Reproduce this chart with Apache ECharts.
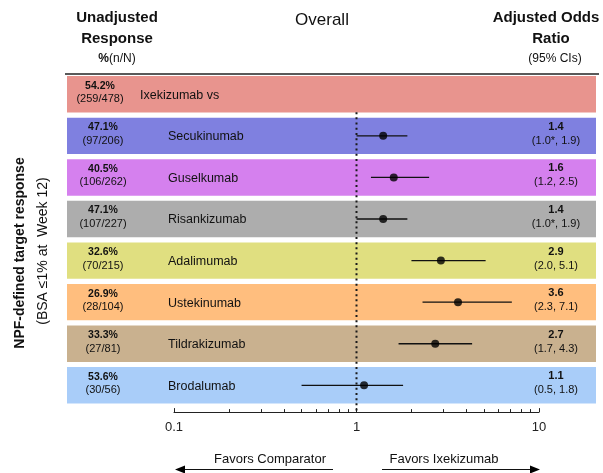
<!DOCTYPE html>
<html>
<head>
<meta charset="utf-8">
<script src="https://cdn.jsdelivr.net/npm/echarts@6/dist/echarts.min.js"></script>
<style>
  html, body { margin: 0; padding: 0; background: #fff; }
  #chart { width: 603px; height: 473px; }
</style>
</head>
<body>
<div id="chart"></div>
<script>
// Forest plot: NPF-defined target response (BSA <=1% at Week 12), ixekizumab vs comparators
const comparators = ['Ixekizumab vs', 'Secukinumab', 'Guselkumab', 'Risankizumab', 'Adalimumab', 'Ustekinumab', 'Tildrakizumab', 'Brodalumab'];
const responsePct = [54.2, 47.1, 40.5, 47.1, 32.6, 26.9, 33.3, 53.6];
const responders = [259, 97, 106, 107, 70, 28, 27, 30];
const patients = [478, 206, 262, 227, 215, 104, 81, 56];
const oddsRatio = [null, 1.4, 1.6, 1.4, 2.9, 3.6, 2.7, 1.1];
const ciLower = [null, 1.0, 1.2, 1.0, 2.0, 2.3, 1.7, 0.5];
const ciUpper = [null, 1.9, 2.5, 1.9, 5.1, 7.1, 4.3, 1.8];
const ciLowerRounded = [false, true, false, true, false, false, false, false];
const bandColors = ['#E8948E', '#7F80E0', '#D580EE', '#ADADAD', '#E0DF80', '#FFBE7E', '#C9B18F', '#A9CDF9'];
const axisTickLabels = [0.1, 1, 10];
const minorTickValues = [0.2, 0.3, 0.4, 0.5, 0.6, 0.7, 0.8, 0.9, 2, 3, 4, 5, 6, 7, 8, 9];

const FONT = '"Liberation Sans", Arial, Helvetica, sans-serif';
const INK = '#111';

const chart = echarts.init(document.getElementById('chart'), null, { renderer: 'canvas' });

const gridTop = 73.5;
const gridHeight = 332.6;

// rows with an odds ratio estimate
const estimateRows = comparators.map((c, i) => i).filter(i => oddsRatio[i] != null);

function txt(x, y, text, size, weight, align) {
  return {
    type: 'text',
    style: {
      x, y, text,
      font: `${weight || 'normal'} ${size}px ${FONT}`,
      fill: INK,
      align: align || 'center', textAlign: align || 'center',
      verticalAlign: 'middle', textVerticalAlign: 'middle'
    }
  };
}

const option = {
  animation: false,
  backgroundColor: '#fff',
  grid: [
    { left: 67, right: 7, top: gridTop, height: gridHeight },
    { left: 174, right: 64, top: gridTop, height: gridHeight }
  ],
  xAxis: [
    { type: 'value', gridIndex: 0, min: 0, max: 1, show: false },
    {
      type: 'log', logBase: 10, gridIndex: 1, min: 0.1, max: 10,
      position: 'bottom', offset: 6,
      axisLine: { show: true, onZero: false, lineStyle: { color: '#222', width: 1 } },
      axisTick: { show: true, inside: true, length: 4, lineStyle: { color: '#222', width: 1 }, customValues: axisTickLabels },
      axisLabel: { color: '#222', fontSize: 13, fontFamily: FONT, margin: 9, customValues: axisTickLabels, formatter: v => String(v) },
      splitLine: { show: false }
    },
    {
      type: 'log', logBase: 10, gridIndex: 1, min: 0.1, max: 10,
      position: 'bottom', offset: 6,
      axisLine: { show: false },
      axisTick: { show: true, inside: true, length: 3, lineStyle: { color: '#222', width: 1 }, customValues: minorTickValues },
      axisLabel: { show: false },
      splitLine: { show: false }
    }
  ],
  yAxis: [
    { type: 'category', gridIndex: 0, data: comparators, inverse: true, show: false },
    { type: 'category', gridIndex: 1, data: comparators, inverse: true, show: false }
  ],
  series: [
    {
      // coloured row bands with the response and odds-ratio text columns
      type: 'custom',
      xAxisIndex: 0, yAxisIndex: 0,
      z: 1,
      data: comparators.map((c, i) => [0, i]),
      renderItem(params, api) {
        const i = params.dataIndex;
        const row = api.value(1);
        const p0 = api.coord([0, row]);
        const p1 = api.coord([1, row]);
        const pitch = api.size([0, 1])[1];
        const h = pitch * 0.875;
        const cy = p0[1];
        const left = p0[0], right = p1[0];
        const children = [
          { type: 'rect', shape: { x: left, y: cy - h / 2, width: right - left, height: h }, style: { fill: bandColors[i] } },
          txt(left + (i === 0 ? 33 : 36), cy - 8.5, responsePct[i].toFixed(1) + '%', 10.5, 'bold'),
          txt(left + (i === 0 ? 33 : 36), cy + 5, '(' + responders[i] + '/' + patients[i] + ')', 11),
          txt(left + (i === 0 ? 73 : 101), cy + 1, comparators[i], 12.5, 'normal', 'left')
        ];
        if (oddsRatio[i] != null) {
          children.push(txt(right - 40, cy - 9, oddsRatio[i].toFixed(1), 11, 'bold'));
          children.push(txt(right - 40, cy + 5,
            '(' + ciLower[i].toFixed(1) + (ciLowerRounded[i] ? '*' : '') + ', ' + ciUpper[i].toFixed(1) + ')', 11));
        }
        return { type: 'group', children };
      }
    },
    {
      // dotted line of no effect (OR = 1)
      type: 'custom',
      xAxisIndex: 1, yAxisIndex: 1,
      z: 3,
      data: [[1, 1]],
      renderItem(params, api) {
        const pitch = api.size([0, 1])[1];
        const p = api.coord([api.value(0), api.value(1)]);
        const top = p[1] - pitch * 0.57;
        const bottom = params.coordSys.y + params.coordSys.height + 6;
        return {
          type: 'line',
          shape: { x1: p[0], y1: top, x2: p[0], y2: bottom },
          style: { stroke: '#1a1a1a', lineWidth: 2, lineDash: [2, 3.2] }
        };
      }
    },
    {
      // 95% confidence intervals
      type: 'custom',
      xAxisIndex: 1, yAxisIndex: 1,
      z: 4,
      encode: { x: [0, 1], y: 2 },
      data: estimateRows.map(i => [ciLower[i], ciUpper[i], i]),
      renderItem(params, api) {
        const a = api.coord([api.value(0), api.value(2)]);
        const b = api.coord([api.value(1), api.value(2)]);
        return {
          type: 'line',
          shape: { x1: a[0], y1: a[1], x2: b[0], y2: b[1] },
          style: { stroke: '#111', lineWidth: 1.3 }
        };
      }
    },
    {
      // point estimates
      type: 'scatter',
      xAxisIndex: 1, yAxisIndex: 1,
      z: 5,
      symbol: 'circle',
      symbolSize: 8,
      itemStyle: { color: '#000' },
      data: estimateRows.map(i => [oddsRatio[i], i])
    }
  ],
  graphic: [
    // column headers
    txt(117, 18, 'Unadjusted', 15, 'bold'),
    txt(117, 39, 'Response', 15, 'bold'),
    {
      type: 'text',
      style: {
        x: 117, y: 59, text: '{b|%}{n|(n/N)}',
        align: 'center', textAlign: 'center', verticalAlign: 'middle', textVerticalAlign: 'middle',
        rich: {
          b: { font: `bold 12px ${FONT}`, fill: INK },
          n: { font: `normal 12px ${FONT}`, fill: INK }
        }
      }
    },
    txt(322, 20, 'Overall', 17),
    txt(546, 18, 'Adjusted Odds', 15, 'bold'),
    txt(551, 39, 'Ratio', 15, 'bold'),
    txt(555, 59, '(95% CIs)', 12),
    {
      type: 'line',
      shape: { x1: 65, y1: 74, x2: 599, y2: 74 },
      style: { stroke: '#222', lineWidth: 1.4 }
    },
    // vertical outcome title
    {
      type: 'text', x: 20, y: 253, rotation: Math.PI / 2,
      style: {
        x: 0, y: 0, text: 'NPF-defined target response',
        font: `bold 14px ${FONT}`, fill: INK,
        align: 'center', textAlign: 'center', verticalAlign: 'middle', textVerticalAlign: 'middle'
      }
    },
    {
      type: 'text', x: 43, y: 251, rotation: Math.PI / 2,
      style: {
        x: 0, y: 0, text: '(BSA \u22641% at  Week 12)',
        font: `normal 14px ${FONT}`, fill: INK,
        align: 'center', textAlign: 'center', verticalAlign: 'middle', textVerticalAlign: 'middle'
      }
    },
    // direction captions and arrows
    txt(270, 459, 'Favors Comparator', 13),
    txt(444, 459, 'Favors Ixekizumab', 13),
    { type: 'line', shape: { x1: 183, y1: 469.5, x2: 333, y2: 469.5 }, style: { stroke: '#111', lineWidth: 1 } },
    { type: 'polygon', shape: { points: [[175, 469.5], [185, 465.5], [185, 473.5]] }, style: { fill: '#000' } },
    { type: 'line', shape: { x1: 382, y1: 469.5, x2: 531, y2: 469.5 }, style: { stroke: '#111', lineWidth: 1 } },
    { type: 'polygon', shape: { points: [[540, 469.5], [530, 465.5], [530, 473.5]] }, style: { fill: '#000' } }
  ]
};

chart.setOption(option);
</script>
</body>
</html>
